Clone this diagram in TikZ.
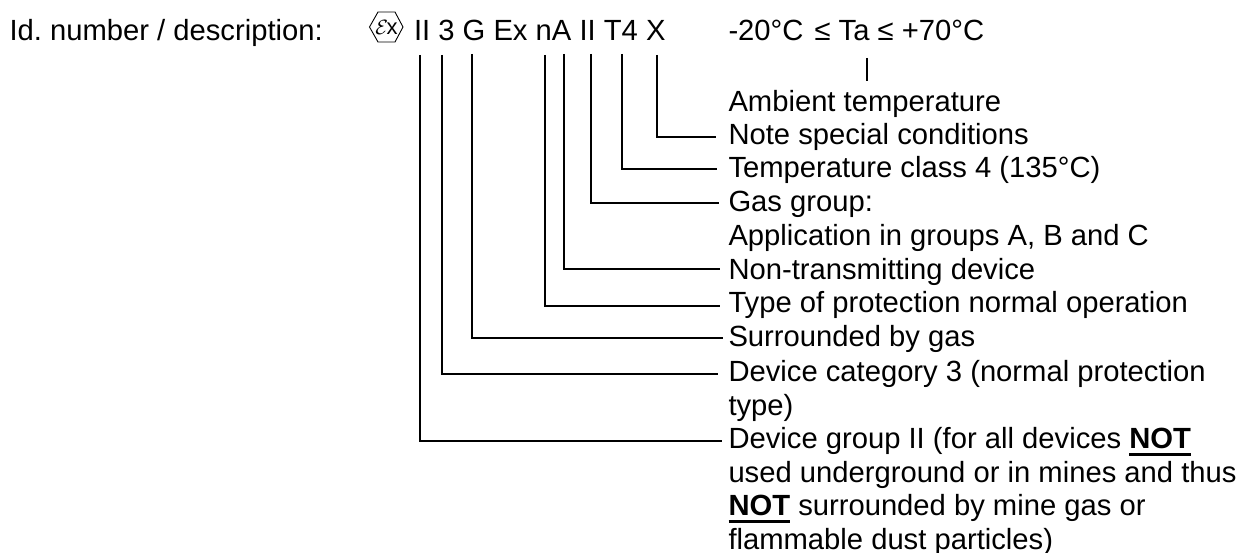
\documentclass[tikz,border=0pt]{standalone}
\usepackage{fontspec}
\setmainfont{Liberation Sans}
\tikzset{
  lbl/.style={inner sep=0pt,outer sep=0pt,anchor=base west,font=\fontsize{29.2bp}{33bp}\selectfont},
  lead/.style={draw=black,line width=1.2bp}
}
\newcommand{\ulbf}[1]{\setbox0=\hbox{\textbf{#1}}\rlap{\rule[-7.5bp]{\wd0}{3bp}}\box0\relax}
\frenchspacing
\begin{document}
\begin{tikzpicture}[x=1bp,y=-1bp]
\useasboundingbox (0,0) rectangle (1242,553);
\node[lbl] (id) at (9.5,41) {Id. number / description:};
\node[lbl] (code) at (414,41) {II 3 G Ex nA II T4 X};
\node[lbl] (ta) at (728.5,41) {-20°C \hspace{3bp}≤ Ta ≤ +70°C};
\node[lbl] (t1) at (728.5,112) {Ambient temperature};
\node[lbl] (t2) at (728.5,145) {Note special conditions};
\node[lbl] (t3) at (728.5,178) {Temperature class 4 (135°C)};
\node[lbl] (t4) at (728.5,212) {Gas group:};
\node[lbl] (t5) at (728.5,246) {Application in groups A, B and C};
\node[lbl] (t6) at (728.5,280) {Non-transmitting device};
\node[lbl] (t7) at (728.5,313) {Type of protection normal operation};
\node[lbl] (t8) at (728.5,347) {Surrounded by gas};
\node[lbl] (t9) at (728.5,381.5) {Device category 3 (normal protection};
\node[lbl] (t10) at (728.5,415) {type)};
\node[lbl] (t11) at (728.5,448) {Device group II (for all devices \ulbf{NOT}};
\node[lbl] (t12) at (728.5,482) {used underground or in mines and thus};
\node[lbl] (t13) at (728.5,515) {\ulbf{NOT} surrounded by mine gas or};
\node[lbl] (t14) at (728.5,549) {flammable dust particles)};
% Ex mark
\node[inner sep=0pt,font=\fontsize{22bp}{22bp}\selectfont] (ex) at (386.5,27.5) {\(\mathcal{E}\)\hspace{-1.5bp}x};
\draw[line width=0.9bp] (369.5,27) -- (378,12) -- (395,12) -- (403,27) -- (395,42) -- (378,42) -- cycle;
% tick
\coordinate (tatop) at (867,58);
\coordinate (tabot) at (867,81);
\draw[lead] (tatop) -- (tabot);
% leaders
\coordinate (a1) at (657,55); \coordinate (b1) at (716,137);
\coordinate (a2) at (622,54); \coordinate (b2) at (717,169);
\coordinate (a3) at (591,54); \coordinate (b3) at (719,203);
\coordinate (a4) at (564,54); \coordinate (b4) at (720,269);
\coordinate (a5) at (545,55); \coordinate (b5) at (720,306);
\coordinate (a6) at (472,54); \coordinate (b6) at (723,338);
\coordinate (a7) at (442,55); \coordinate (b7) at (718,374);
\coordinate (a8) at (420,55); \coordinate (b8) at (722,441);
\foreach \i in {1,...,8} \draw[lead] (a\i) |- (b\i);
\end{tikzpicture}
\end{document}
